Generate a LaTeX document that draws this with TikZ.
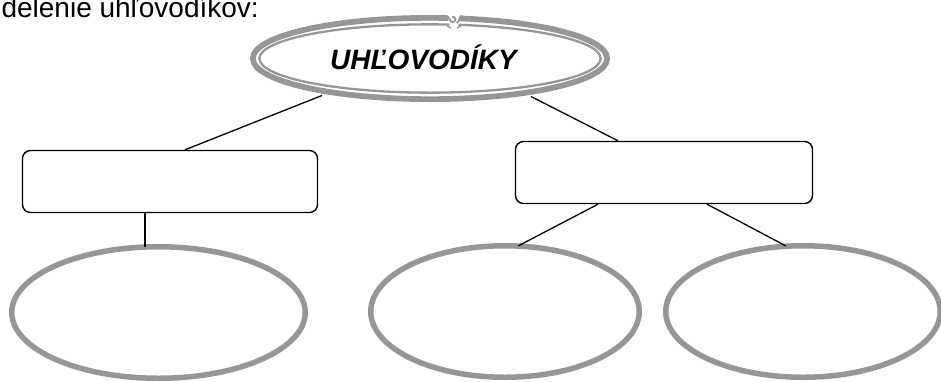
\documentclass[tikz,border=0pt]{standalone}
\usepackage{fontspec}
\setmainfont{Liberation Sans}
\usetikzlibrary{shapes.geometric,calc}
\definecolor{ringgray}{RGB}{150,150,150}
\tikzset{
  ring/.style={ellipse, draw=ringgray, line width=5.5pt, inner sep=0pt, minimum height=131.5pt},
  catbox/.style={draw=black, line width=1.4pt, rounded corners=8pt, inner sep=0pt, minimum width=295pt, minimum height=62pt},
  conn/.style={draw=black, line width=1.3pt},
  bigtext/.style={font=\fontsize{28}{33}\selectfont}
}
\begin{document}
\begin{tikzpicture}[x=1pt,y=-1pt]
\useasboundingbox (0,0) rectangle (941,381);
% heading
\node[bigtext, anchor=base east, inner sep=0pt] (heading) at (259,17.3) {delenie uhľovodíkov:};
% top double ellipse
\node[ellipse, draw=ringgray, line width=5.7pt, inner sep=0pt, minimum width=354.3pt, minimum height=81.3pt] (top) at (430,58.5) {};
\draw[ringgray, line width=2.3pt] (top.center) ellipse [x radius=170.65pt, y radius=34.15pt];
% notch at the top
\fill[white] (446,11) -- (462,11) -- (457,30) -- (451,30) -- cycle;
\draw[ringgray, line width=1.8pt] (446,15.5) .. controls (450,17) and (450,23) .. (453,22) .. controls (457,21) and (456,16) .. (452,17);
\draw[ringgray, line width=1.8pt] (462,15.5) .. controls (459,17) and (459,22) .. (457,23);
\draw[ringgray, line width=1.2pt] (447,26) -- (451,28);
\draw[ringgray, line width=1.2pt] (461,26) -- (457,28);
\node[font=\fontsize{28}{33}\selectfont\bfseries\itshape, anchor=base west, inner sep=0pt] (toplabel) at (330,69) {UHĽOVODÍKY};
% category boxes
\node[catbox] (L) at (170,181.5) {};
\node[catbox, minimum width=297pt] (R) at (664,172.5) {};
% bottom ellipses
\node[ring, minimum width=293.5pt] (LE) at (158.5,312.5) {};
\node[ring, minimum width=268.5pt] (ME) at (505,311.5) {};
\node[ring, minimum width=274.5pt] (RE) at (803,311.5) {};
% connectors
\draw[conn] ($(top.center)+(-108,37)$) -- ($(L.north)+(15,0)$);
\draw[conn] ($(top.center)+(101,38)$) -- ($(R.north)+(-46,0)$);
\draw[conn] ($(L.south)+(-25,0)$) -- ($(LE.north)+(-13.5,3)$);
\draw[conn] ($(R.south)+(-66,0)$) -- ($(ME.north)+(13,3)$);
\draw[conn] ($(R.south)+(43,0)$) -- ($(RE.north)+(-17,3)$);
\end{tikzpicture}
\end{document}
